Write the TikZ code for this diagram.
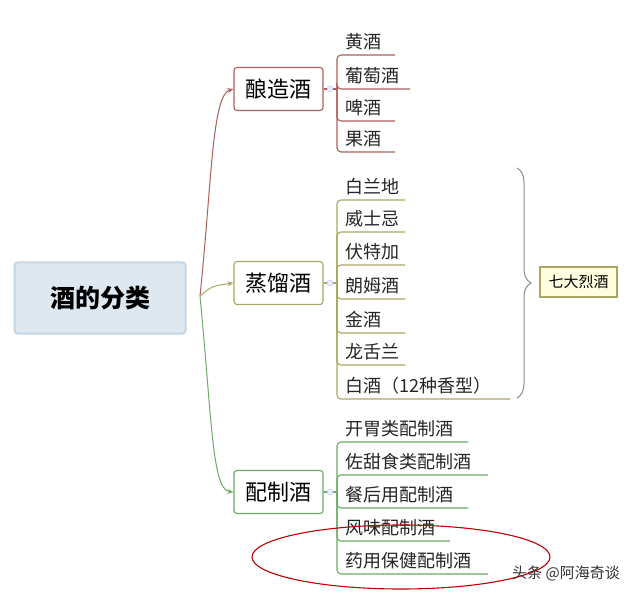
\documentclass[tikz,border=0pt]{standalone}
\usepackage{fontspec}
\setmainfont{Noto Sans CJK SC}
\usetikzlibrary{decorations.pathreplacing,arrows.meta}
\definecolor{cRed}{HTML}{A8605C}
\definecolor{cOl}{HTML}{A9A764}
\definecolor{cGr}{HTML}{6DAA6A}
\definecolor{rootfill}{HTML}{DDE8F0}
\definecolor{rootdraw}{HTML}{C5D5E2}
\tikzset{
 topic/.style={draw=#1,line width=1.1pt,rounded corners=3pt,minimum width=89pt,minimum height=43pt,font=\fontsize{22}{22}\selectfont,inner sep=2pt},
 kid/.style={anchor=south west,font=\fontsize{18}{18}\selectfont,inner sep=5pt,text=black!85},
 lnk/.style={draw=#1,line width=1.1pt,rounded corners=4pt},
 con/.style={draw=#1,line width=1pt,-{Stealth[length=6pt,width=5pt]}},
 hubdot/.style={circle,draw=blue!25,fill=blue!8,inner sep=0pt,minimum size=6pt}
}
\begin{document}
\begin{tikzpicture}[x=1pt,y=-1pt]
\useasboundingbox (0,0) rectangle (640,596);
\fill[white] (0,0) rectangle (640,596);
\node[draw=rootdraw,fill=rootfill,line width=2pt,rounded corners=3pt,minimum width=171pt,minimum height=71pt,font=\fontsize{25}{25}\selectfont\bfseries] (root) at (100,298) {酒的分类};
\node[topic=cRed] (a) at (278.5,89) {酿造酒};
\node[topic=cOl] (b) at (278.5,283) {蒸馏酒};
\node[topic=cGr] (c) at (278.5,492) {配制酒};
\coordinate (r0) at (200,296);
\draw[con=cRed] (r0) .. controls (212,180) and (212,95) .. (a.west);
\draw[con=cOl] (r0) .. controls (212,286) .. (b.west);
\draw[con=cGr] (r0) .. controls (212,420) and (212,490) .. (c.west);
% group a
\foreach \n/\t/\y/\e in {a1/黄酒/55/395,a2/葡萄酒/89/410,a3/啤酒/121/395,a4/果酒/152/395}{
 \node[kid] (\n) at (340,\y) {\t};
 \coordinate (\n e) at (\e,\y);
}
\foreach \n in {a1,a2,a3,a4}{\draw[lnk=cRed] (\n e) -| (337,89);}
\draw[cRed,line width=1.1pt] (a.east) -- (337,89);
\node[hubdot] at (330,89) {};
% group b
\foreach \n/\t/\y/\e in {b1/白兰地/200/405,b2/威士忌/232/405,b3/伏特加/265/405,b4/朗姆酒/299/405,b5/金酒/333/405,b6/龙舌兰/365/405,b7/白酒（12种香型）/399/510}{
 \node[kid] (\n) at (340,\y) {\t};
 \coordinate (\n e) at (\e,\y);
}
\foreach \n in {b1,b2,b3,b4,b5,b6,b7}{\draw[lnk=cOl] (\n e) -| (337,283);}
\draw[cOl,line width=1.1pt] (b.east) -- (337,283);
\node[hubdot] at (330,283) {};
% group c
\foreach \n/\t/\y/\e in {c1/开胃类配制酒/442/468,c2/佐甜食类配制酒/475/488,c3/餐后用配制酒/508/468,c4/风味配制酒/541/450,c5/药用保健配制酒/574/488}{
 \node[kid] (\n) at (340,\y) {\t};
 \coordinate (\n e) at (\e,\y);
}
\foreach \n in {c1,c2,c3,c4,c5}{\draw[lnk=cGr] (\n e) -| (337,492);}
\draw[cGr,line width=1.1pt] (c.east) -- (337,492);
\node[hubdot] at (330,492) {};
% brace
\coordinate (bt) at (517,168);
\coordinate (bb) at (517,398);
\draw[black!45,line width=1pt,decorate,decoration={brace,amplitude=14pt}] (bt) -- (bb);
\node[draw=cOl,fill=yellow!12,line width=1.1pt,minimum width=77pt,minimum height=30pt,inner sep=1pt,font=\fontsize{15}{15}\selectfont] (seven) at (578.5,282) {七大烈酒};
\draw[red!75!black,line width=1.1pt] (401,557) ellipse (149 and 32);
\node[font=\fontsize{15}{15}\selectfont,text=black!80] (wm) at (566,573) {头条 @阿海奇谈};
\end{tikzpicture}
\end{document}
